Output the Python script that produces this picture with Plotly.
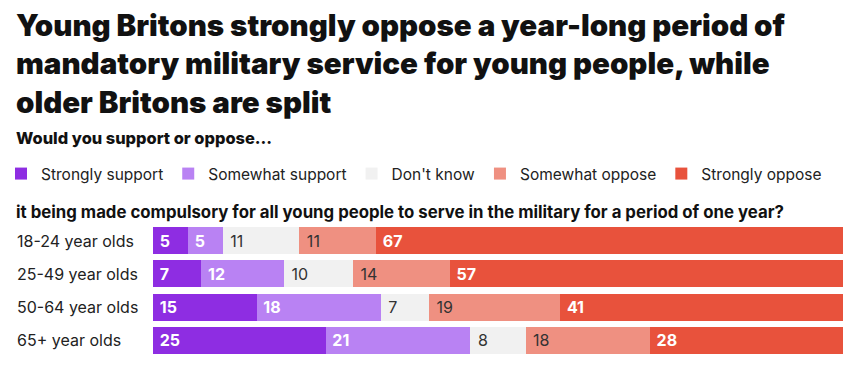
import plotly.graph_objects as go

# ---- data ----
groups = ["18-24 year olds", "25-49 year olds", "50-64 year olds", "65+ year olds"]
responses = ["Strongly support", "Somewhat support", "Don't know", "Somewhat oppose", "Strongly oppose"]
strongly_support = [5, 7, 15, 25]
somewhat_support = [5, 12, 18, 21]
dont_know = [11, 10, 7, 8]
somewhat_oppose = [11, 14, 19, 18]
strongly_oppose = [67, 57, 41, 28]
series = [strongly_support, somewhat_support, dont_know, somewhat_oppose, strongly_oppose]

title_text = ("Young Britons strongly oppose a year-long period of<br>"
              "mandatory military service for young people, while<br>"
              "older Britons are split")
subtitle_text = "Would you support or oppose..."
question_text = "it being made compulsory for all young people to serve in the military for a period of one year?"

# ---- style ----
colors = ["#8e2de2", "#b982f3", "#f1f1f1", "#ef9081", "#e8523c"]
label_colors = ["#ffffff", "#ffffff", "#333333", "#333333", "#ffffff"]
label_weights = ["bold", "bold", "normal", "normal", "bold"]
FONT = "Inter, Roboto, sans-serif"

W, H = 856, 366
L, R, T, B = 153, 13, 224, 9
PW, PH = W - L - R, H - T - B


def px_x(px):
    return (px - L) / PW


def px_y(py):
    return (H - B - py) / PH


fig = go.Figure()
for name, vals, col, tcol, tw in zip(responses, series, colors, label_colors, label_weights):
    fig.add_trace(go.Bar(
        name=name,
        y=groups,
        x=vals,
        orientation="h",
        marker=dict(color=col, line=dict(width=0)),
        text=[str(v) for v in vals],
        texttemplate="\u00a0%{text}",
        textposition="inside",
        insidetextanchor="start",
        textangle=0,
        textfont=dict(family=FONT, size=16, color=tcol, weight=tw),
        hoverinfo="name+x+y",
    ))

annotations = [
    dict(text=title_text, x=px_x(14), y=px_y(5), xref="paper", yref="paper",
         xanchor="left", yanchor="top", align="left", showarrow=False,
         font=dict(family=FONT, size=29.5, color="#111111", weight=900)),
    dict(text=subtitle_text, x=px_x(14), y=px_y(138), xref="paper", yref="paper",
         xanchor="left", yanchor="middle", showarrow=False,
         font=dict(family=FONT, size=16.4, color="#111111", weight=800)),
    dict(text=question_text, x=px_x(14), y=px_y(212), xref="paper", yref="paper",
         xanchor="left", yanchor="middle", showarrow=False,
         font=dict(family=FONT, size=16.8, color="#111111", weight="bold")),
]
for g in groups:
    annotations.append(dict(text=g, x=px_x(15), y=g, xref="paper", yref="y",
                            xanchor="left", yanchor="middle", showarrow=False,
                            font=dict(family=FONT, size=16, color="#222222")))

fig.update_layout(
    width=W, height=H,
    margin=dict(l=L, r=R, t=T, b=B, pad=0, autoexpand=False),
    paper_bgcolor="white", plot_bgcolor="white",
    barmode="stack", barnorm="percent", bargap=0.19,
    showlegend=True,
    legend=dict(orientation="h", x=px_x(1), xanchor="left",
                y=px_y(174), yanchor="middle",
                font=dict(family=FONT, size=15.5, color="#222222"),
                traceorder="normal", bgcolor="rgba(0,0,0,0)", itemclick=False,
                itemdoubleclick=False),
    xaxis=dict(range=[0, 100], visible=False, fixedrange=True),
    yaxis=dict(autorange="reversed", showticklabels=False, showgrid=False,
               zeroline=False, fixedrange=True),
    annotations=annotations,
)

fig.write_html("out.html", config={"displayModeBar": False},
               post_script="document.body.style.margin='0px';")
